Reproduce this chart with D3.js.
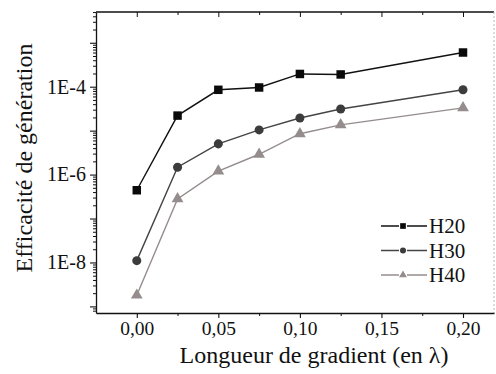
<!DOCTYPE html>
<html><head><meta charset="utf-8">
<script src="https://cdn.jsdelivr.net/npm/d3@7"></script>
<style>body{margin:0;background:#fff}svg{display:block}svg text{font-family:"Liberation Serif","Times New Roman",Times,serif !important}</style>
</head><body>
<script>
const xValues = [0, 0.025, 0.05, 0.075, 0.10, 0.125, 0.20];
const seriesNames = ["H20", "H30", "H40"];
const h20 = [4.4e-7, 2.2e-5, 8.5e-5, 9.6e-5, 1.95e-4, 1.9e-4, 6.0e-4];
const h30 = [1.1e-8, 1.47e-6, 5.0e-6, 1.04e-5, 1.94e-5, 3.1e-5, 8.5e-5];
const h40 = [1.8e-9, 2.8e-7, 1.2e-6, 2.9e-6, 8.5e-6, 1.35e-5, 3.3e-5];
const xTickLabels = ["0,00", "0,05", "0,10", "0,15", "0,20"];
const yTickLabels = ["1E-4", "1E-6", "1E-8"];

const W = 496, H = 374;
const L = 96, R = 494, T = 12, B = 313;

const svg = d3.select("body").append("svg").attr("width", W).attr("height", H);

const x = d3.scaleLinear().domain([-0.025, 0.219]).range([L, R]);
const y = d3.scaleLog().domain([Math.pow(10, -9.15), Math.pow(10, -2.3)]).range([B, T]);

// frame
svg.append("line").attr("x1", L).attr("x2", R).attr("y1", T).attr("y2", T).attr("stroke", "#111").attr("stroke-width", 1.3);
svg.append("line").attr("x1", R).attr("x2", R).attr("y1", T).attr("y2", B).attr("stroke", "#bbb").attr("stroke-width", 1).attr("stroke-dasharray", "2,2");

// bottom axis (major with labels)
const xMajor = [0, 0.05, 0.10, 0.15, 0.20];
const xMinor = [0.025, 0.075, 0.125, 0.175];
const bottomAxis = d3.axisBottom(x).tickValues(xMajor)
  .tickFormat((d, i) => xTickLabels[i]).tickSize(5).tickSizeOuter(0).tickPadding(3);
const gB = svg.append("g").attr("transform", `translate(0,${B})`).call(bottomAxis);
gB.select(".domain").attr("stroke", "#111").attr("stroke-width", 1.3);
gB.selectAll(".tick line").attr("stroke", "#111").attr("stroke-width", 1.1);
gB.selectAll("text").attr("font-size", 19.5).attr("fill", "#111");
const gBm = svg.append("g").attr("transform", `translate(0,${B})`)
  .call(d3.axisBottom(x).tickValues(xMinor).tickFormat("").tickSize(3).tickSizeOuter(0));
gBm.select(".domain").remove();
gBm.selectAll(".tick line").attr("stroke", "#111");

// top axis ticks inward
const gT = svg.append("g").attr("transform", `translate(0,${T})`)
  .call(d3.axisTop(x).tickValues(xMajor).tickFormat("").tickSize(-5).tickSizeOuter(0));
gT.select(".domain").remove();
gT.selectAll(".tick line").attr("stroke", "#111");
const gTm = svg.append("g").attr("transform", `translate(0,${T})`)
  .call(d3.axisTop(x).tickValues(xMinor).tickFormat("").tickSize(-3).tickSizeOuter(0));
gTm.select(".domain").remove();
gTm.selectAll(".tick line").attr("stroke", "#111");

// left axis
const yMajor = [1e-3, 1e-4, 1e-5, 1e-6, 1e-7, 1e-8, 1e-9];
const labelMap = new Map([[1e-4, yTickLabels[0]], [1e-6, yTickLabels[1]], [1e-8, yTickLabels[2]]]);
const gL = svg.append("g").attr("transform", `translate(${L},0)`)
  .call(d3.axisLeft(y).tickValues(yMajor).tickFormat(d => labelMap.get(d) || "")
    .tickSize(6).tickSizeOuter(0).tickPadding(4));
gL.select(".domain").attr("stroke", "#111").attr("stroke-width", 1.3);
gL.selectAll(".tick line").attr("stroke", "#111").attr("stroke-width", 1.1);
gL.selectAll("text").attr("font-size", 20).attr("fill", "#111");
const yMinor = [];
for (let e = -10; e <= -3; e++) for (let m = 2; m <= 9; m++) {
  const v = m * Math.pow(10, e);
  if (v >= y.domain()[0] && v <= y.domain()[1]) yMinor.push(v);
}
const gLm = svg.append("g").attr("transform", `translate(${L},0)`)
  .call(d3.axisLeft(y).tickValues(yMinor).tickFormat("").tickSize(3).tickSizeOuter(0));
gLm.select(".domain").remove();
gLm.selectAll(".tick line").attr("stroke", "#111");

// series
const series = [
  {name: seriesNames[0], values: h20, line: "#111", fill: "#0a0a0a", shape: d3.symbolSquare, size: 72},
  {name: seriesNames[1], values: h30, line: "#444", fill: "#3c3c3c", shape: d3.symbolCircle, size: 64},
  {name: seriesNames[2], values: h40, line: "#958d8d", fill: "#958d8d", shape: d3.symbolTriangle, size: 60},
];
const lineGen = d3.line().x(d => x(d[0])).y(d => y(d[1]));
series.forEach(s => {
  const pts = xValues.map((xv, i) => [xv, s.values[i]]);
  svg.append("path").attr("d", lineGen(pts)).attr("fill", "none")
    .attr("stroke", s.line).attr("stroke-width", 1.4);
  svg.selectAll(null).data(pts).enter().append("path")
    .attr("d", d3.symbol().type(s.shape).size(s.size))
    .attr("transform", d => `translate(${x(d[0])},${y(d[1])})`)
    .attr("fill", s.fill);
});

// legend
const legY = [226, 250.5, 275];
series.forEach((s, i) => {
  const g = svg.append("g").attr("transform", `translate(0,${legY[i]})`);
  g.append("line").attr("x1", 381).attr("x2", 427).attr("y1", 0).attr("y2", 0)
    .attr("stroke", s.line).attr("stroke-width", 1.4);
  g.append("rect").attr("x", 399).attr("y", -4).attr("width", 8).attr("height", 8).attr("fill", "#fff");
  g.append("path").attr("d", d3.symbol().type(s.shape).size(s.size * 0.45)).attr("transform", "translate(403,0)").attr("fill", s.fill);
  g.append("text").attr("x", 429).attr("y", 0).attr("dy", "0.35em")
    .attr("font-size", 21).attr("fill", "#111").text(s.name);
});

// axis titles
svg.append("text").attr("x", 314).attr("y", 363)
  .attr("text-anchor", "middle").attr("font-size", 24).attr("fill", "#111")
  .text("Longueur de gradient (en λ)");
svg.append("text").attr("transform", "translate(24,158) rotate(-90)").attr("dy", "0.35em")
  .attr("text-anchor", "middle").attr("font-size", 24).attr("fill", "#111")
  .text("Efficacité de génération");
</script>
</body></html>
